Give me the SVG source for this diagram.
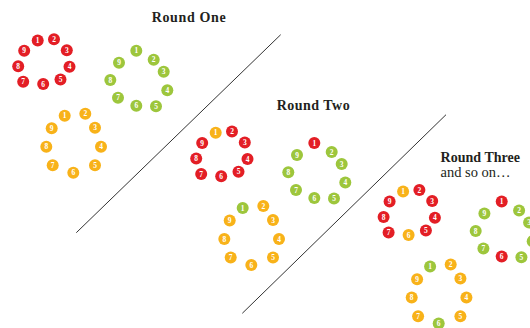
<svg xmlns="http://www.w3.org/2000/svg" width="530" height="328" viewBox="0 0 530 328">
<style>
.r{fill:#E31E25}
.g{fill:#9DC63C}
.o{fill:#F8B219}
.ball text{font-family:"Liberation Serif","Times New Roman",serif;font-weight:bold;font-size:7.5px;fill:#fff;text-anchor:middle}
.title{font-family:"Liberation Serif","Times New Roman",serif;font-weight:bold;font-size:14px;fill:#231F20}
.sub{font-family:"Liberation Serif","Times New Roman",serif;font-size:14.5px;fill:#231F20}
.divider{stroke:#333;stroke-width:1;fill:none}
</style>
<g id="connectors">
<line class="divider" x1="76.3" y1="232.7" x2="280.7" y2="34.7"/>
<line class="divider" x1="242.3" y1="313.3" x2="446" y2="114.7"/>
</g>
<g id="labels">
<text id="label-round-one" class="title" x="151.7" y="22.3" textLength="74" lengthAdjust="spacing">Round One</text>
<text id="label-round-two" class="title" x="276.7" y="110" textLength="73" lengthAdjust="spacing">Round Two</text>
<text id="label-round-three" class="title" x="440.5" y="161.5" textLength="79.5" lengthAdjust="spacing">Round Three</text>
<text id="label-and-so-on" class="sub" x="440.5" y="177" textLength="70" lengthAdjust="spacing">and so on…</text>
</g>
<g id="round-one">
<g id="r1-red" class="ball">
<g transform="translate(37.7,40.5)"><circle class="r" r="6"/><text y="2.6">1</text></g>
<g transform="translate(54,39.2)"><circle class="r" r="6"/><text y="2.6">2</text></g>
<g transform="translate(66.8,50.2)"><circle class="r" r="6"/><text y="2.6">3</text></g>
<g transform="translate(69.5,66.8)"><circle class="r" r="6"/><text y="2.6">4</text></g>
<g transform="translate(60.5,79.5)"><circle class="r" r="6"/><text y="2.6">5</text></g>
<g transform="translate(43.2,84)"><circle class="r" r="6"/><text y="2.6">6</text></g>
<g transform="translate(23.2,81.7)"><circle class="r" r="6"/><text y="2.6">7</text></g>
<g transform="translate(18.2,66.2)"><circle class="r" r="6"/><text y="2.6">8</text></g>
<g transform="translate(24.2,50.7)"><circle class="r" r="6"/><text y="2.6">9</text></g>
</g>
<g id="r1-green" class="ball">
<g transform="translate(136.3,50.7)"><circle class="g" r="6"/><text y="2.6">1</text></g>
<g transform="translate(153.7,59.7)"><circle class="g" r="6"/><text y="2.6">2</text></g>
<g transform="translate(163.7,71.7)"><circle class="g" r="6"/><text y="2.6">3</text></g>
<g transform="translate(167.3,90.3)"><circle class="g" r="6"/><text y="2.6">4</text></g>
<g transform="translate(156,106.3)"><circle class="g" r="6"/><text y="2.6">5</text></g>
<g transform="translate(136.3,105.7)"><circle class="g" r="6"/><text y="2.6">6</text></g>
<g transform="translate(118,97.7)"><circle class="g" r="6"/><text y="2.6">7</text></g>
<g transform="translate(110.3,80)"><circle class="g" r="6"/><text y="2.6">8</text></g>
<g transform="translate(119,62.7)"><circle class="g" r="6"/><text y="2.6">9</text></g>
</g>
<g id="r1-orange" class="ball">
<g transform="translate(64.7,115.7)"><circle class="o" r="6"/><text y="2.6">1</text></g>
<g transform="translate(85.3,113.7)"><circle class="o" r="6"/><text y="2.6">2</text></g>
<g transform="translate(95,127.7)"><circle class="o" r="6"/><text y="2.6">3</text></g>
<g transform="translate(101,146.7)"><circle class="o" r="6"/><text y="2.6">4</text></g>
<g transform="translate(95,165.3)"><circle class="o" r="6"/><text y="2.6">5</text></g>
<g transform="translate(73.3,172.7)"><circle class="o" r="6"/><text y="2.6">6</text></g>
<g transform="translate(52.7,165.3)"><circle class="o" r="6"/><text y="2.6">7</text></g>
<g transform="translate(46.3,146.7)"><circle class="o" r="6"/><text y="2.6">8</text></g>
<g transform="translate(51.7,128.3)"><circle class="o" r="6"/><text y="2.6">9</text></g>
</g>
</g>
<g id="round-two" transform="translate(178,92.3)">
<g id="r2-red" class="ball">
<g transform="translate(37.7,40.5)"><circle class="o" r="6"/><text y="2.6">1</text></g>
<g transform="translate(54,39.2)"><circle class="r" r="6"/><text y="2.6">2</text></g>
<g transform="translate(66.8,50.2)"><circle class="r" r="6"/><text y="2.6">3</text></g>
<g transform="translate(69.5,66.8)"><circle class="r" r="6"/><text y="2.6">4</text></g>
<g transform="translate(60.5,79.5)"><circle class="r" r="6"/><text y="2.6">5</text></g>
<g transform="translate(43.2,84)"><circle class="r" r="6"/><text y="2.6">6</text></g>
<g transform="translate(23.2,81.7)"><circle class="r" r="6"/><text y="2.6">7</text></g>
<g transform="translate(18.2,66.2)"><circle class="r" r="6"/><text y="2.6">8</text></g>
<g transform="translate(24.2,50.7)"><circle class="r" r="6"/><text y="2.6">9</text></g>
</g>
<g id="r2-green" class="ball">
<g transform="translate(136.3,50.7)"><circle class="r" r="6"/><text y="2.6">1</text></g>
<g transform="translate(153.7,59.7)"><circle class="g" r="6"/><text y="2.6">2</text></g>
<g transform="translate(163.7,71.7)"><circle class="g" r="6"/><text y="2.6">3</text></g>
<g transform="translate(167.3,90.3)"><circle class="g" r="6"/><text y="2.6">4</text></g>
<g transform="translate(156,106.3)"><circle class="g" r="6"/><text y="2.6">5</text></g>
<g transform="translate(136.3,105.7)"><circle class="g" r="6"/><text y="2.6">6</text></g>
<g transform="translate(118,97.7)"><circle class="g" r="6"/><text y="2.6">7</text></g>
<g transform="translate(110.3,80)"><circle class="g" r="6"/><text y="2.6">8</text></g>
<g transform="translate(119,62.7)"><circle class="g" r="6"/><text y="2.6">9</text></g>
</g>
<g id="r2-orange" class="ball">
<g transform="translate(64.7,115.7)"><circle class="g" r="6"/><text y="2.6">1</text></g>
<g transform="translate(85.3,113.7)"><circle class="o" r="6"/><text y="2.6">2</text></g>
<g transform="translate(95,127.7)"><circle class="o" r="6"/><text y="2.6">3</text></g>
<g transform="translate(101,146.7)"><circle class="o" r="6"/><text y="2.6">4</text></g>
<g transform="translate(95,165.3)"><circle class="o" r="6"/><text y="2.6">5</text></g>
<g transform="translate(73.3,172.7)"><circle class="o" r="6"/><text y="2.6">6</text></g>
<g transform="translate(52.7,165.3)"><circle class="o" r="6"/><text y="2.6">7</text></g>
<g transform="translate(46.3,146.7)"><circle class="o" r="6"/><text y="2.6">8</text></g>
<g transform="translate(51.7,128.3)"><circle class="o" r="6"/><text y="2.6">9</text></g>
</g>
</g>
<g id="round-three" transform="translate(365.4,150.9)">
<g id="r3-red" class="ball">
<g transform="translate(37.7,40.5)"><circle class="o" r="6"/><text y="2.6">1</text></g>
<g transform="translate(54,39.2)"><circle class="r" r="6"/><text y="2.6">2</text></g>
<g transform="translate(66.8,50.2)"><circle class="r" r="6"/><text y="2.6">3</text></g>
<g transform="translate(69.5,66.8)"><circle class="r" r="6"/><text y="2.6">4</text></g>
<g transform="translate(60.5,79.5)"><circle class="r" r="6"/><text y="2.6">5</text></g>
<g transform="translate(43.2,84)"><circle class="o" r="6"/><text y="2.6">6</text></g>
<g transform="translate(23.2,81.7)"><circle class="r" r="6"/><text y="2.6">7</text></g>
<g transform="translate(18.2,66.2)"><circle class="r" r="6"/><text y="2.6">8</text></g>
<g transform="translate(24.2,50.7)"><circle class="r" r="6"/><text y="2.6">9</text></g>
</g>
<g id="r3-green" class="ball">
<g transform="translate(136.3,50.7)"><circle class="r" r="6"/><text y="2.6">1</text></g>
<g transform="translate(153.7,59.7)"><circle class="g" r="6"/><text y="2.6">2</text></g>
<g transform="translate(163.7,71.7)"><circle class="g" r="6"/><text y="2.6">3</text></g>
<g transform="translate(167.3,90.3)"><circle class="g" r="6"/><text y="2.6">4</text></g>
<g transform="translate(156,106.3)"><circle class="g" r="6"/><text y="2.6">5</text></g>
<g transform="translate(136.3,105.7)"><circle class="r" r="6"/><text y="2.6">6</text></g>
<g transform="translate(118,97.7)"><circle class="g" r="6"/><text y="2.6">7</text></g>
<g transform="translate(110.3,80)"><circle class="g" r="6"/><text y="2.6">8</text></g>
<g transform="translate(119,62.7)"><circle class="g" r="6"/><text y="2.6">9</text></g>
</g>
<g id="r3-orange" class="ball">
<g transform="translate(64.7,115.7)"><circle class="g" r="6"/><text y="2.6">1</text></g>
<g transform="translate(85.3,113.7)"><circle class="o" r="6"/><text y="2.6">2</text></g>
<g transform="translate(95,127.7)"><circle class="o" r="6"/><text y="2.6">3</text></g>
<g transform="translate(101,146.7)"><circle class="o" r="6"/><text y="2.6">4</text></g>
<g transform="translate(95,165.3)"><circle class="o" r="6"/><text y="2.6">5</text></g>
<g transform="translate(73.3,172.7)"><circle class="g" r="6"/><text y="2.6">6</text></g>
<g transform="translate(52.7,165.3)"><circle class="o" r="6"/><text y="2.6">7</text></g>
<g transform="translate(46.3,146.7)"><circle class="o" r="6"/><text y="2.6">8</text></g>
<g transform="translate(51.7,128.3)"><circle class="o" r="6"/><text y="2.6">9</text></g>
</g>
</g>
</svg>
